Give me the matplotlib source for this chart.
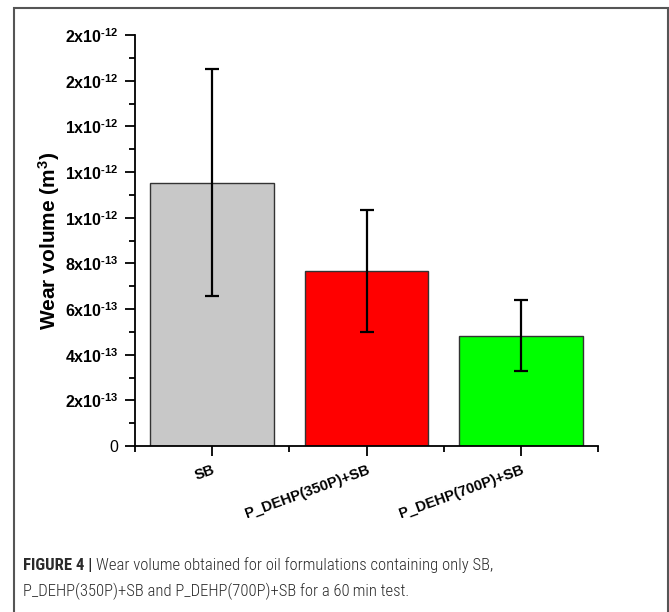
import numpy as np
import matplotlib
matplotlib.use('Agg')
import matplotlib.pyplot as plt
from matplotlib.ticker import FuncFormatter, MultipleLocator, FixedLocator
from matplotlib.patches import Rectangle

plt.rcParams['font.family'] = ['Liberation Sans', 'DejaVu Sans']
plt.rcParams['mathtext.fontset'] = 'custom'
plt.rcParams['mathtext.rm'] = 'Liberation Sans:bold'
plt.rcParams['mathtext.bf'] = 'Liberation Sans:bold'
plt.rcParams['mathtext.default'] = 'bf'

# Wear volume (m^3) and standard deviation for each oil formulation
categories = ['SB', 'P_DEHP(350P)+SB', 'P_DEHP(700P)+SB']
wear = [1.153e-12, 0.765e-12, 0.483e-12]
wear_err = [0.496e-12, 0.267e-12, 0.156e-12]
colors = ['#c8c8c8', '#ff0000', '#00ff00']

fig = plt.figure(figsize=(6.69, 6.12), dpi=100)
ax = fig.add_axes([135 / 669, 1 - 446 / 612, (598 - 135) / 669, (446 - 35) / 612])

x = np.arange(1, len(categories) + 1)
ax.bar(x, wear, width=0.8, color=colors, edgecolor='#333333', linewidth=1.0)
ax.errorbar(x, wear, yerr=wear_err, fmt='none', ecolor='black',
            elinewidth=1.6, capsize=5, capthick=1.6)

ax.set_xlim(0.5, 3.5)
ax.set_ylim(0, 1.8e-12)


def sci_label(v, pos):
    # Origin style labels: mantissa rounded to a whole number
    if v == 0:
        return '0'
    e = int(np.floor(np.log10(abs(v)) + 1e-9))
    m = int(round(v / 10 ** e))
    return r'$%dx10^{\text{%d}}$' % (m, e)


ax.yaxis.set_major_locator(MultipleLocator(2e-13))
ax.yaxis.set_minor_locator(MultipleLocator(1e-13))
ax.yaxis.set_major_formatter(FuncFormatter(sci_label))
ax.yaxis.get_offset_text().set_visible(False)

ax.set_xticks(x)
ax.set_xticklabels(categories, rotation=20, ha='right', va='top',
                   rotation_mode='anchor', fontweight='bold', fontsize=10.5)
ax.xaxis.set_minor_locator(FixedLocator([0.5, 1.5, 2.5, 3.5]))

for lab in ax.get_yticklabels():
    lab.set_fontsize(11.5)

ax.tick_params(which='major', direction='out', length=7, width=1.3, color='black')
ax.tick_params(which='minor', direction='out', length=4, width=1.3, color='black')
ax.tick_params(axis='x', which='major', pad=5)
ax.tick_params(axis='y', which='major', pad=5)

for s in ['top', 'right']:
    ax.spines[s].set_visible(False)
for s in ['left', 'bottom']:
    ax.spines[s].set_linewidth(1.3)

ax.set_ylabel(r'Wear volume (m$^{3}$)', fontsize=15, fontweight='bold')
ax.yaxis.set_label_coords(-0.158, 0.5)

# Frame around figure and caption
fig.patches.append(Rectangle((14 / 669, -0.05), 654 / 669, 1 - 8 / 612 + 0.05,
                             transform=fig.transFigure, fill=False,
                             edgecolor='#555555', linewidth=1.5))

cap_font = ['Roboto Condensed', 'Liberation Sans', 'DejaVu Sans']
cap_size = 12
t1 = fig.text(23 / 669, 1 - 565 / 612, 'FIGURE 4 | ', fontsize=cap_size, fontweight='bold',
              family=cap_font, va='center', color='#2a2a2a')
fig.canvas.draw()
bb = t1.get_window_extent(fig.canvas.get_renderer())
fig.text(bb.x1 / fig.bbox.width, 1 - 565 / 612,
         'Wear volume obtained for oil formulations containing only SB,',
         fontsize=cap_size, family=cap_font, fontweight='light', va='center', color='#2a2a2a')
fig.text(23 / 669, 1 - 591 / 612,
         'P_DEHP(350P)+SB and P_DEHP(700P)+SB for a 60\u2009min test.',
         fontsize=cap_size, family=cap_font, fontweight='light', va='center', color='#2a2a2a')

fig.savefig('out.png', dpi=100)
